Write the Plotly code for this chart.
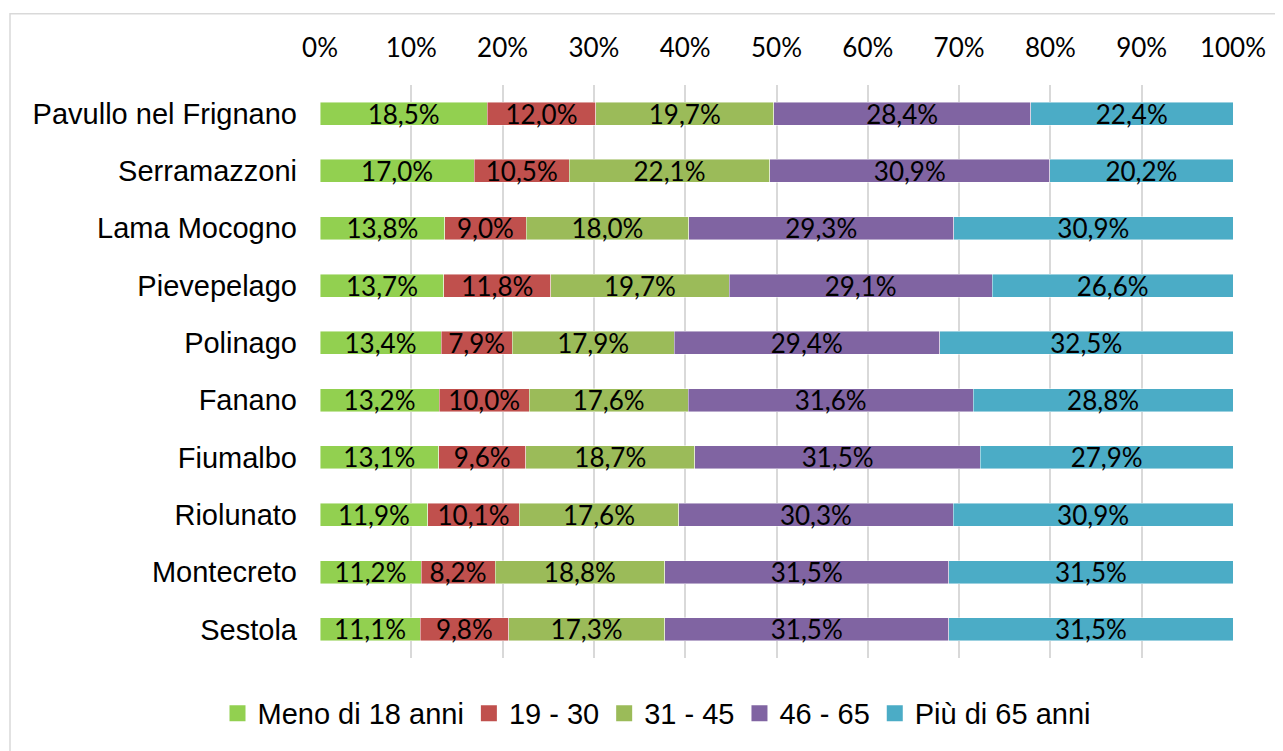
import plotly.graph_objects as go

comuni = ["Pavullo nel Frignano", "Serramazzoni", "Lama Mocogno", "Pievepelago",
          "Polinago", "Fanano", "Fiumalbo", "Riolunato", "Montecreto", "Sestola"]

series_names = ["Meno di 18 anni", "19 - 30", "31 - 45", "46 - 65", "Più di 65 anni"]

meno_18 = [18.5, 17.0, 13.8, 13.7, 13.4, 13.2, 13.1, 11.9, 11.2, 11.1]
eta_19_30 = [12.0, 10.5, 9.0, 11.8, 7.9, 10.0, 9.6, 10.1, 8.2, 9.8]
eta_31_45 = [19.7, 22.1, 18.0, 19.7, 17.9, 17.6, 18.7, 17.6, 18.8, 17.3]
eta_46_65 = [28.4, 30.9, 29.3, 29.1, 29.4, 31.6, 31.5, 30.3, 31.5, 31.5]
piu_65 = [22.4, 20.2, 30.9, 26.6, 32.5, 28.8, 27.9, 30.9, 31.5, 31.5]

tick_vals = [0, 10, 20, 30, 40, 50, 60, 70, 80, 90, 100]
tick_text = ["0%", "10%", "20%", "30%", "40%", "50%", "60%", "70%", "80%", "90%", "100%"]

colors = ["#92D050", "#C0504D", "#9BBB59", "#8064A2", "#4BACC6"]
all_series = [meno_18, eta_19_30, eta_31_45, eta_46_65, piu_65]

fig = go.Figure()
for name, vals, col in zip(series_names, all_series, colors):
    fig.add_trace(go.Bar(
        y=comuni, x=vals, name=name, orientation="h", showlegend=False,
        legendgroup=name,
        marker=dict(color=col, line=dict(color="rgba(255,255,255,0.6)", width=0.75)),
        text=[f"{v:.1f}%".replace(".", ",") for v in vals],
        textposition="inside", insidetextanchor="middle", textangle=0,
        constraintext="none",
        textfont=dict(family="Lato", size=26, color="#000000"),
        hoverinfo="skip",
    ))
# legend entries with larger square markers
for name, col in zip(series_names, colors):
    fig.add_trace(go.Scatter(
        x=[None], y=[None], mode="markers", name=name, legendgroup=name,
        marker=dict(symbol="square", size=17, color=col), showlegend=True,
    ))

OFF = 8  # body margin of the page
W, H = 1283 - OFF, 751 - OFF
L, R, T, B = 320 - OFF, 1283 - 1233, 85 - OFF, 751 - 665
pw = W - L - R
ph = H - T - B

def px_x(p):
    return (p - OFF - L) / pw

def px_y(p):
    return 1 - (p - OFF - T) / ph

fig.update_layout(
    width=W, height=H,
    barmode="stack", barnorm="percent", bargap=0.6,
    margin=dict(l=L, r=R, t=T, b=B),
    paper_bgcolor="white", plot_bgcolor="white",
    uniformtext=dict(minsize=26, mode="show"),
    showlegend=True,
    legend=dict(orientation="h", x=px_x(657), y=px_y(721), xanchor="center", yanchor="middle",
                font=dict(family="Liberation Sans", size=29, color="#000000"),
                traceorder="normal", itemwidth=30, tracegroupgap=0),
    xaxis=dict(side="top", range=[0, 100], tickvals=tick_vals, ticktext=tick_text,
               showgrid=True, gridcolor="#D9D9D9", gridwidth=1.5,
               zeroline=False, showline=False, ticks="",
               ticklabelstandoff=22,
               tickfont=dict(family="Lato", size=26, color="#000000"), fixedrange=True),
    yaxis=dict(autorange="reversed", showgrid=False, zeroline=False, showline=False,
               ticks="", ticklabelstandoff=22,
               tickfont=dict(family="Liberation Sans", size=29, color="#000000")),
    shapes=[dict(type="rect", xref="paper", yref="paper",
                 x0=px_x(10), y0=px_y(800), x1=px_x(1320), y1=px_y(13),
                 line=dict(color="#D9D9D9", width=1.5), fillcolor="rgba(0,0,0,0)", layer="below")],
)

fig.write_html("out.html")
